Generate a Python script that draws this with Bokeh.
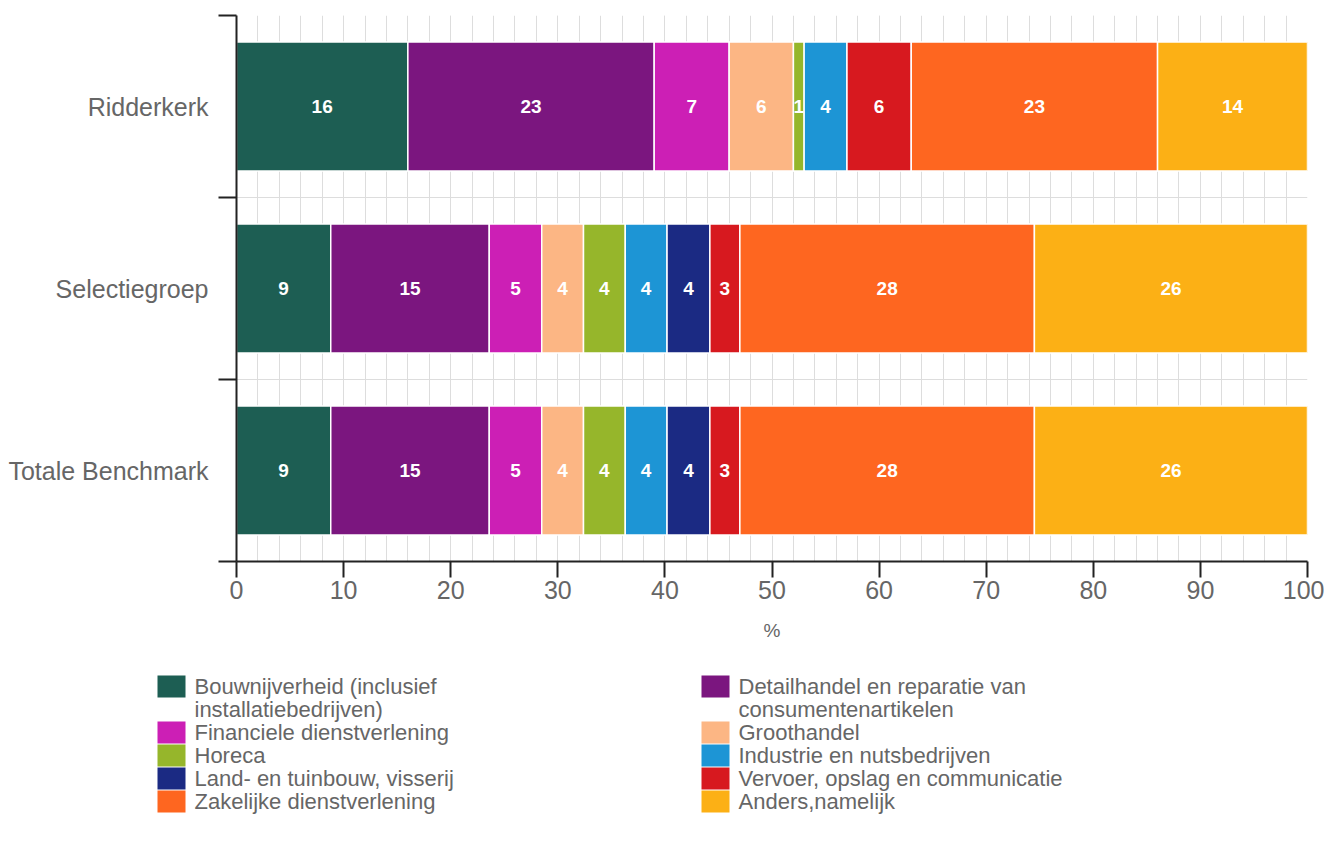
import textwrap
from bokeh.plotting import figure
from bokeh.models import ColumnDataSource, Range1d, FixedTicker
from bokeh.embed import file_html
from bokeh.resources import INLINE
from bokeh.core.properties import value

# ---------------- data ----------------
groups = ["Ridderkerk", "Selectiegroep", "Totale Benchmark"]
sectors = [
    "Bouwnijverheid (inclusief installatiebedrijven)",
    "Detailhandel en reparatie van consumentenartikelen",
    "Financiele dienstverlening",
    "Groothandel",
    "Horeca",
    "Industrie en nutsbedrijven",
    "Land- en tuinbouw, visserij",
    "Vervoer, opslag en communicatie",
    "Zakelijke dienstverlening",
    "Anders,namelijk",
]
colors = ["#1d5e53", "#7b167f", "#cc1fb5", "#fcb684", "#96b62b",
          "#1d95d5", "#1b2a83", "#d7191f", "#fe6620", "#fcb015"]
ridderkerk = [16, 23, 7, 6, 1, 4, 0, 6, 23, 14]
selectiegroep = [8.8, 14.8, 4.9, 3.9, 3.9, 3.9, 4.0, 2.8, 27.5, 25.5]
totale_benchmark = [8.8, 14.8, 4.9, 3.9, 3.9, 3.9, 4.0, 2.8, 27.5, 25.5]
x_ticks = [0, 10, 20, 30, 40, 50, 60, 70, 80, 90, 100]
x_minor = list(range(0, 101, 2))

series = [ridderkerk, selectiegroep, totale_benchmark]

FONT = "Liberation Sans"
GREY = "#666666"
AXIS = "#222222"

# page layout (px)
W = 1324
FRAME_L, FRAME_R, FRAME_T, FRAME_B = 236, 1307, 15, 561
H_MAIN = 655
H_LEG = 185

# ------------- flat source of segments -------------
ys, lefts, rights, cols, mids, labels = [], [], [], [], [], []
for gi, vals in enumerate(series):
    start = 0.0
    for si, v in enumerate(vals):
        if v > 0:
            ys.append(gi + 0.5)
            lefts.append(start)
            rights.append(start + v)
            cols.append(colors[si])
            mids.append(start + v / 2)
            labels.append(f"{v:.0f}")
        start += v
src = ColumnDataSource(dict(y=ys, left=lefts, right=rights, color=cols,
                            mid=mids, label=labels))

# ---------------- main chart ----------------
p = figure(width=W, height=H_MAIN, x_range=Range1d(0, 100),
           y_range=Range1d(len(groups), 0),
           toolbar_location=None, output_backend="svg",
           min_border_left=FRAME_L, min_border_right=W - FRAME_R,
           min_border_top=FRAME_T, min_border_bottom=H_MAIN - FRAME_B)
p.outline_line_color = None

p.hbar(y="y", left="left", right="right", height=0.71, source=src,
       fill_color="color", line_color="white", line_width=1.5)
p.text(x="mid", y="y", text="label", source=src, text_align="center",
       text_baseline="middle", text_color="white",
       text_font=value(FONT), text_font_style="bold", text_font_size="19px")

# x axis
p.xaxis.ticker = FixedTicker(ticks=x_ticks, minor_ticks=x_minor)
p.xaxis.axis_line_color = AXIS
p.xaxis.axis_line_width = 2
p.xaxis.major_tick_line_color = AXIS
p.xaxis.major_tick_line_width = 2
p.xaxis.major_tick_out = 16
p.xaxis.major_tick_in = 0
p.xaxis.minor_tick_line_color = None
p.xaxis.minor_tick_out = 0
p.xaxis.minor_tick_in = 0
p.xaxis.major_label_standoff = 3
p.xaxis.major_label_text_font = FONT
p.xaxis.major_label_text_font_size = "25px"
p.xaxis.major_label_text_color = GREY
p.xaxis.axis_label = "%"
p.xaxis.axis_label_text_font = FONT
p.xaxis.axis_label_text_font_size = "19px"
p.xaxis.axis_label_text_font_style = "normal"
p.xaxis.axis_label_text_color = GREY
p.xaxis.axis_label_standoff = 18

# y axis: labels at band centres, ticks at band edges
p.yaxis.ticker = FixedTicker(ticks=[i + 0.5 for i in range(len(groups))],
                             minor_ticks=list(range(len(groups) + 1)))
p.yaxis.major_label_overrides = {i + 0.5: g for i, g in enumerate(groups)}
p.yaxis.axis_line_color = AXIS
p.yaxis.axis_line_width = 2
p.yaxis.major_tick_line_color = None
p.yaxis.major_tick_out = 0
p.yaxis.major_tick_in = 0
p.yaxis.minor_tick_line_color = AXIS
p.yaxis.minor_tick_line_width = 2
p.yaxis.minor_tick_out = 18
p.yaxis.minor_tick_in = 0
p.yaxis.major_label_standoff = 10
p.yaxis.major_label_text_font = FONT
p.yaxis.major_label_text_font_size = "25px"
p.yaxis.major_label_text_color = GREY

# grid
p.xgrid.grid_line_color = "#dddddd"
p.xgrid.minor_grid_line_color = "#dddddd"
p.ygrid.ticker = FixedTicker(ticks=list(range(len(groups) + 1)))
p.ygrid.grid_line_color = "#dddddd"

# ---------------- legend (separate root, data units = page px) ----------------
leg = figure(width=W, height=H_LEG,
             x_range=Range1d(0, W),
             y_range=Range1d(H_MAIN + H_LEG, H_MAIN),
             toolbar_location=None, output_backend="svg",
             x_axis_location=None, y_axis_location=None, min_border=0,
             min_border_left=0, min_border_right=0,
             min_border_top=0, min_border_bottom=0)
leg.outline_line_color = None
leg.xgrid.visible = False
leg.ygrid.visible = False

col_sq_left = [157, 701]
sq_w, sq_h = 28, 22
text_gap = 9
line_h = 23
first_y = 686

wrapped = [textwrap.wrap(s, 31) for s in sectors]
n_rows = (len(sectors) + 1) // 2
row_y = []
y = first_y
for r in range(n_rows):
    row_y.append(y)
    nlines = max(len(wrapped[k]) for k in (2 * r, 2 * r + 1) if k < len(sectors))
    y += nlines * line_h

sq = dict(x=[], y=[], color=[])
tx = dict(x=[], y=[], text=[])
for k, lines in enumerate(wrapped):
    r, c = divmod(k, 2)
    sq["x"].append(col_sq_left[c] + sq_w / 2)
    sq["y"].append(row_y[r])
    sq["color"].append(colors[k])
    for li, line in enumerate(lines):
        tx["x"].append(col_sq_left[c] + sq_w + text_gap)
        tx["y"].append(row_y[r] + li * line_h)
        tx["text"].append(line)

leg.rect(x="x", y="y", width=sq_w, height=sq_h, source=ColumnDataSource(sq),
         fill_color="color", line_color=None)
leg.text(x="x", y="y", text="text", source=ColumnDataSource(tx),
         text_align="left", text_baseline="middle", text_color=GREY,
         text_font=value(FONT), text_font_size="22px")

open("out.html", "w").write(file_html([p, leg], INLINE))
